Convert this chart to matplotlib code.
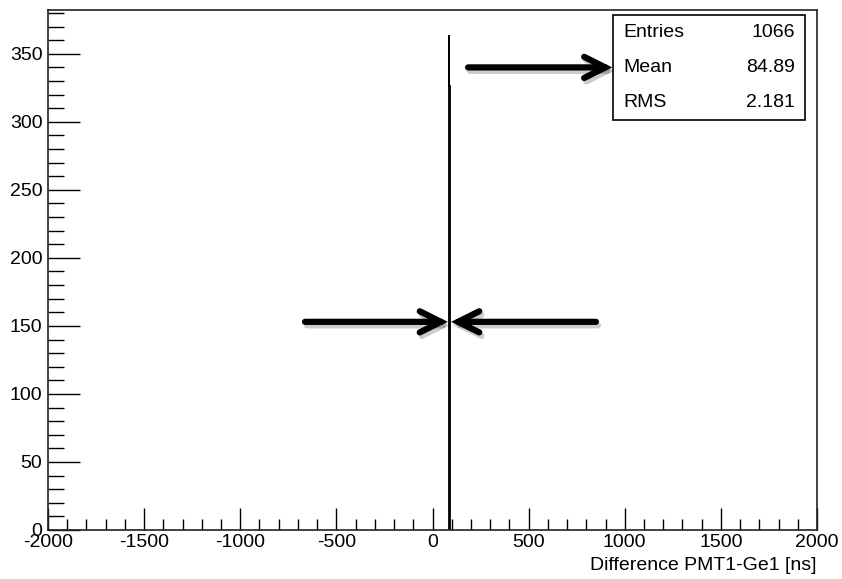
import matplotlib
matplotlib.use("Agg")
import matplotlib.pyplot as plt
import matplotlib.patheffects as pe
import numpy as np

plt.rcParams['font.family'] = ['Liberation Sans', 'DejaVu Sans']
plt.rcParams['axes.unicode_minus'] = False

# Histogram contents (the two peak bins)
bin_edges = [84, 88, 92]
counts = [364, 326]

# Stats box
stat_names = ["Entries", "Mean", "RMS"]
stat_values = ["1066", "84.89", "2.181"]

x_title = "Difference PMT1-Ge1 [ns]"

fig = plt.figure(figsize=(8.42, 5.79), dpi=100)
ax = fig.add_axes([48/842, 1-530/579, 769/842, 520/579])

ax.stairs(counts, bin_edges, color="black", linewidth=1.3)

ax.set_xlim(-2000, 2000)
ax.set_ylim(0, max(counts)*1.05)

ax.set_xticks(np.arange(-2000, 2001, 500))
ax.set_xticks(np.arange(-2000, 2001, 100), minor=True)
ax.set_yticks(np.arange(0, 351, 50))
ax.set_yticks(np.arange(0, 381, 10), minor=True)

ax.tick_params(axis="both", which="both", direction="in", labelsize=14,
               width=1.0, colors="black")
ax.tick_params(axis="x", which="major", length=16, pad=3)
ax.tick_params(axis="x", which="minor", length=8)
ax.tick_params(axis="y", which="major", length=23, pad=4)
ax.tick_params(axis="y", which="minor", length=11.5)
ax.tick_params(top=False, right=False, which="both")
for s in ax.spines.values():
    s.set_linewidth(1.2)
    s.set_color("#222222")

ax.set_xlabel(x_title, fontsize=14, loc="right", labelpad=4)

# stats box
bx0, bx1, by0, by1 = 0.735, 0.984, 0.788, 0.990
ax.add_patch(plt.Rectangle((bx0, by0), bx1-bx0, by1-by0, transform=ax.transAxes,
                           facecolor="white", edgecolor="black", linewidth=1.2, zorder=5))
row_h = (by1 - by0) / 3
for i, (n, v) in enumerate(zip(stat_names, stat_values)):
    yy = by1 - row_h*(i+0.5)
    ax.text(bx0+0.013, yy, n, transform=ax.transAxes, fontsize=14,
            ha="left", va="center", zorder=6)
    ax.text(bx1-0.013, yy, v, transform=ax.transAxes, fontsize=14,
            ha="right", va="center", zorder=6)

# arrows
shadow = [pe.SimpleLineShadow(offset=(1.5, -2.5), shadow_color="black", alpha=0.2),
          pe.Normal()]
arrow_kw = dict(arrowstyle="->", lw=4.5, color="black", mutation_scale=38,
                capstyle="round", joinstyle="miter", shrinkA=0, shrinkB=0)
arrows = [((185, 340), (935, 340)),
          ((-663, 153), (80, 153)),
          ((850, 153), (97, 153))]
for start, end in arrows:
    ar = ax.annotate("", xy=end, xytext=start,
                     arrowprops=dict(**arrow_kw), zorder=7)
    ar.arrow_patch.set_path_effects(shadow)

fig.savefig("out.png", dpi=100)
